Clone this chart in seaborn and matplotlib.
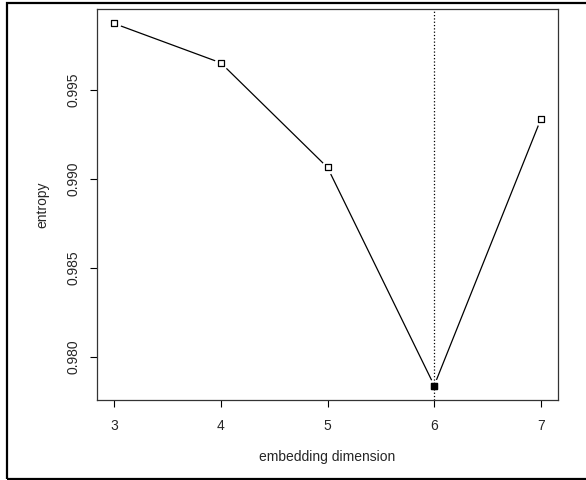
import numpy as np
import pandas as pd
import seaborn as sns
import matplotlib.pyplot as plt
from matplotlib.patches import Rectangle

# values
dims = [3, 4, 5, 6, 7]
entropy = [0.99871, 0.99650, 0.99063, 0.97839, 0.99335]
xticks = [3, 4, 5, 6, 7]
yticks = [0.980, 0.985, 0.990, 0.995]

df = pd.DataFrame({'dim': dims, 'entropy': entropy})
best = df.loc[df['entropy'].idxmin()]

sns.set_style('white')
plt.rcParams['font.family'] = ['Liberation Sans', 'DejaVu Sans']

fig = plt.figure(figsize=(5.86, 4.8), dpi=100)
ax = fig.add_axes([97 / 586, 1 - 400 / 480, 461 / 586, 391 / 480])

# line first, then white blobs to leave gaps around the points (R type="b")
sns.lineplot(x='dim', y='entropy', data=df, color='black', linewidth=0.9, ax=ax, zorder=1)
ax.plot(df['dim'], df['entropy'], linestyle='none', marker='o', markersize=10,
        markerfacecolor='white', markeredgecolor='none', zorder=2)
ax.axvline(best['dim'], color='black', linestyle=':', linewidth=0.9, zorder=2.5)
sns.scatterplot(x='dim', y='entropy', data=df, marker='s', s=22, facecolor='white',
                edgecolor='black', linewidth=0.9, ax=ax, zorder=3)
sns.scatterplot(x=[best['dim']], y=[best['entropy']], marker='s', s=22, color='black',
                edgecolor='black', linewidth=0.9, ax=ax, zorder=4)

# R style 4% padding
xr = max(dims) - min(dims)
yr = max(entropy) - min(entropy)
ax.set_xlim(min(dims) - 0.04 * xr, max(dims) + 0.04 * xr)
ax.set_ylim(min(entropy) - 0.04 * yr, max(entropy) + 0.04 * yr)

ax.set_xticks(xticks)
ax.set_xticklabels([str(t) for t in xticks])
ax.set_yticks(yticks)
ax.set_yticklabels(['%.3f' % t for t in yticks], rotation=90, va='center')
ax.tick_params(axis='x', direction='out', length=5, width=0.8, color='black',
               labelsize=10, pad=9, bottom=True)
ax.tick_params(axis='y', direction='out', length=5, width=0.8, color='black',
               labelsize=10, pad=7, left=True)
for s in ax.spines.values():
    s.set_color('#333333')
    s.set_linewidth(0.9)

ax.set_xlabel('embedding dimension', fontsize=10)
ax.set_ylabel('entropy', fontsize=10)
ax.xaxis.set_label_coords(0.5, -(457 - 400) / 391, transform=ax.transAxes)
ax.yaxis.set_label_coords(-(97 - 42) / 461, 0.5, transform=ax.transAxes)
ax.xaxis.label.set_va('center')
ax.yaxis.label.set_va('center')

# outer box around the whole picture (right side runs off the image)
fig.patches.append(Rectangle((7 / 586, 1 / 480), 1.2, 476 / 480, transform=fig.transFigure,
                             fill=False, edgecolor='black', linewidth=1.6))

fig.savefig('out.png', dpi=100)
